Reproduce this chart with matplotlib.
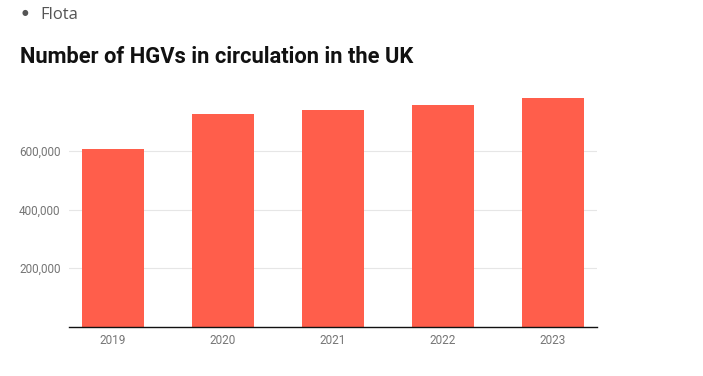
import matplotlib.pyplot as plt
from matplotlib.ticker import FuncFormatter

years = ['2019', '2020', '2021', '2022', '2023']
hgvs = [606000, 725000, 740000, 756000, 780000]
yticks = [200000, 400000, 600000]

plt.rcParams['font.family'] = ['Roboto', 'DejaVu Sans']

fig = plt.figure(figsize=(7.03, 3.76), dpi=100)
W, H = 703, 376
# axes box in pixels: left 69, right 597, top 92, bottom 327
ax = fig.add_axes([69 / W, 1 - 327 / H, (597 - 69) / W, (327 - 92) / H])

x = range(len(years))
ax.bar(x, hgvs, width=0.565, color='#ff5e4b', zorder=2)
ax.set_xlim(-0.4, 4.4)
ax.set_ylim(0, 800000)
ax.set_xticks(list(x))
ax.set_xticklabels(years)
ax.set_yticks(yticks)
ax.yaxis.set_major_formatter(FuncFormatter(lambda v, p: f'{int(v):,}'))
ax.grid(axis='y', color='#e6e6e6', linewidth=0.8, zorder=0)
ax.tick_params(axis='both', length=0, labelsize=8.5, labelcolor='#757575')
ax.tick_params(axis='x', pad=5)
ax.tick_params(axis='y', pad=6)
for s in ['top', 'right', 'left']:
    ax.spines[s].set_visible(False)
ax.spines['bottom'].set_color('#111111')
ax.spines['bottom'].set_linewidth(1)

# bullet item above the title
fig.text(24.5 / W, 1 - 13 / H, '\u25cf', fontsize=5.5, color='#555555', va='center', ha='center',
         family=['DejaVu Sans'])
fig.text(40 / W, 1 - 15 / H, 'Flota', fontsize=12, color='#555555', va='center',
         family=['Open Sans', 'DejaVu Sans'])
fig.text(20 / W, 1 - 57 / H, 'Number of HGVs in circulation in the UK', fontsize=15.75,
         fontweight='bold', color='#111111', va='center')

fig.savefig('out.png', dpi=100)
